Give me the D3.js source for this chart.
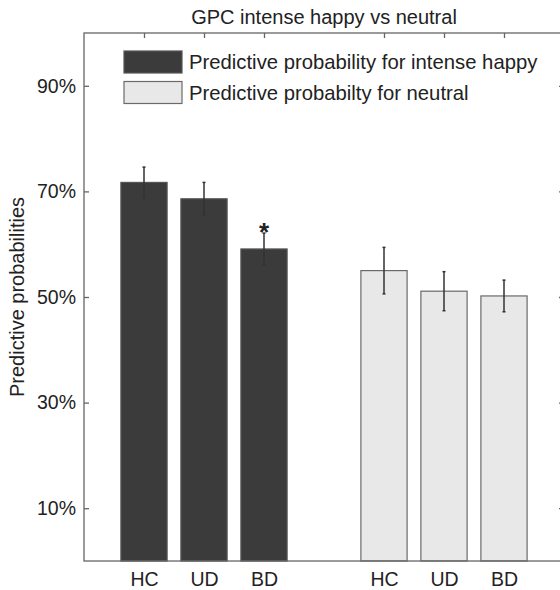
<!DOCTYPE html>
<html>
<head>
<meta charset="utf-8">
<script src="https://cdn.jsdelivr.net/npm/d3@7"></script>
<style>
  body { margin: 0; background: #fff; overflow: hidden; }
  svg { display: block; }
  text { font-family: "Liberation Sans", Arial, sans-serif; fill: #222; }
</style>
</head>
<body>
<div id="chart"></div>
<script>
var groups = ["HC", "UD", "BD"];
var happyVals = [0.717, 0.686, 0.591];
var happyErr = [0.029, 0.031, 0.030];
var neutralVals = [0.550, 0.511, 0.502];
var neutralErr = [0.044, 0.037, 0.030];
var yTicks = [0.1, 0.3, 0.5, 0.7, 0.9];
var legendLabels = ["Predictive probability for intense happy", "Predictive probabilty for neutral"];

var width = 560, height = 590;
var margin = { left: 84, top: 33, right: -4, bottom: 29 };

var svg = d3.select("#chart").append("svg")
  .attr("width", width).attr("height", height);

// bars sit at positions 1,2,3 and 5,6,7
var bars = [];
groups.forEach(function (g, i) {
  bars.push({ label: g, pos: i + 1, v: happyVals[i], e: happyErr[i], kind: "happy" });
});
groups.forEach(function (g, i) {
  bars.push({ label: g, pos: i + 5, v: neutralVals[i], e: neutralErr[i], kind: "neutral" });
});

var x = d3.scaleLinear().domain([0, 8]).range([margin.left, width - margin.right]);
var y = d3.scaleLinear().domain([0, 1]).range([height - margin.bottom, margin.top]);
var bw = x(0.77) - x(0);

var fill = { happy: "#3b3b3b", neutral: "#e8e8e8" };
var edge = { happy: "#555", neutral: "#6a6a6a" };

svg.selectAll("rect.bar").data(bars).enter().append("rect")
  .attr("class", "bar")
  .attr("x", function (d) { return x(d.pos) - bw / 2; })
  .attr("y", function (d) { return y(d.v); })
  .attr("width", bw)
  .attr("height", function (d) { return y(0) - y(d.v); })
  .attr("fill", function (d) { return fill[d.kind]; })
  .attr("stroke", function (d) { return edge[d.kind]; })
  .attr("stroke-width", 1.2);

// error bars
var eb = svg.selectAll("g.err").data(bars).enter().append("g").attr("class", "err")
  .attr("stroke", "#333").attr("stroke-width", 1.5);
eb.append("line")
  .attr("x1", function (d) { return x(d.pos); })
  .attr("x2", function (d) { return x(d.pos); })
  .attr("y1", function (d) { return y(d.v + d.e); })
  .attr("y2", function (d) { return y(d.v - d.e); });
eb.append("line")
  .attr("x1", function (d) { return x(d.pos) - 1.5; })
  .attr("x2", function (d) { return x(d.pos) + 1.5; })
  .attr("y1", function (d) { return y(d.v + d.e); })
  .attr("y2", function (d) { return y(d.v + d.e); });
eb.append("line")
  .attr("x1", function (d) { return x(d.pos) - 1.5; })
  .attr("x2", function (d) { return x(d.pos) + 1.5; })
  .attr("y1", function (d) { return y(d.v - d.e); })
  .attr("y2", function (d) { return y(d.v - d.e); });

// significance star over BD intense happy
var bd = bars[2];
svg.append("text")
  .attr("x", x(bd.pos))
  .attr("y", y(bd.v + bd.e) + 8)
  .attr("text-anchor", "middle")
  .style("font-size", "26px")
  .style("font-weight", "bold")
  .text("*");

// axes box
var axisColor = "#666";
var positions = bars.map(function (d) { return d.pos; });

var leftAx = svg.append("g").attr("transform", "translate(" + x(0) + ",0)")
  .call(d3.axisRight(y).tickValues(yTicks).tickSize(5).tickFormat(""));
var leftLab = svg.append("g").attr("transform", "translate(" + x(0) + ",0)")
  .call(d3.axisLeft(y).tickValues(yTicks).tickSize(0).tickPadding(8).tickFormat(d3.format(".0%")));
leftLab.select(".domain").remove();
leftLab.selectAll("text").style("font-size", "19.5px").attr("fill", "#222");

var rightAx = svg.append("g").attr("transform", "translate(" + x(8) + ",0)")
  .call(d3.axisLeft(y).tickValues(yTicks).tickSize(5).tickFormat(""));

var topAx = svg.append("g").attr("transform", "translate(0," + y(1) + ")")
  .call(d3.axisBottom(x).tickValues(positions).tickSize(5).tickFormat(""));

var bottomAx = svg.append("g").attr("transform", "translate(0," + y(0) + ")")
  .call(d3.axisBottom(x).tickValues(positions).tickSize(0).tickPadding(11)
    .tickFormat(function (p) { return bars.find(function (b) { return b.pos === p; }).label; }));
bottomAx.selectAll("text").style("font-size", "19.5px").attr("fill", "#222");

[leftAx, rightAx, topAx, bottomAx].forEach(function (g) {
  g.selectAll("line").attr("stroke", axisColor).attr("stroke-width", 1.3);
  g.select(".domain").remove();
});
svg.append("rect")
  .attr("x", x(0)).attr("y", y(1))
  .attr("width", x(8) - x(0)).attr("height", y(0) - y(1))
  .attr("fill", "none").attr("stroke", axisColor).attr("stroke-width", 1.3);

// title
svg.append("text")
  .attr("x", (x(0) + x(8)) / 2)
  .attr("y", 24)
  .attr("text-anchor", "middle")
  .style("font-size", "20px")
  .text("GPC intense happy vs neutral");

// y label
svg.append("text")
  .attr("transform", "translate(24," + (y(0) + y(1)) / 2 + ") rotate(-90)")
  .attr("text-anchor", "middle")
  .style("font-size", "20px")
  .text("Predictive probabilities");

// legend
var lg = svg.append("g").attr("transform", "translate(124,51)");
var legKinds = ["happy", "neutral"];
legKinds.forEach(function (k, i) {
  lg.append("rect")
    .attr("x", 0).attr("y", i * 30.5)
    .attr("width", 58).attr("height", 22)
    .attr("fill", fill[k]).attr("stroke", edge[k]).attr("stroke-width", 1.2);
  lg.append("text")
    .attr("x", 65).attr("y", i * 30.5 + 18)
    .style("font-size", "20.3px")
    .text(legendLabels[i]);
});
</script>
</body>
</html>
